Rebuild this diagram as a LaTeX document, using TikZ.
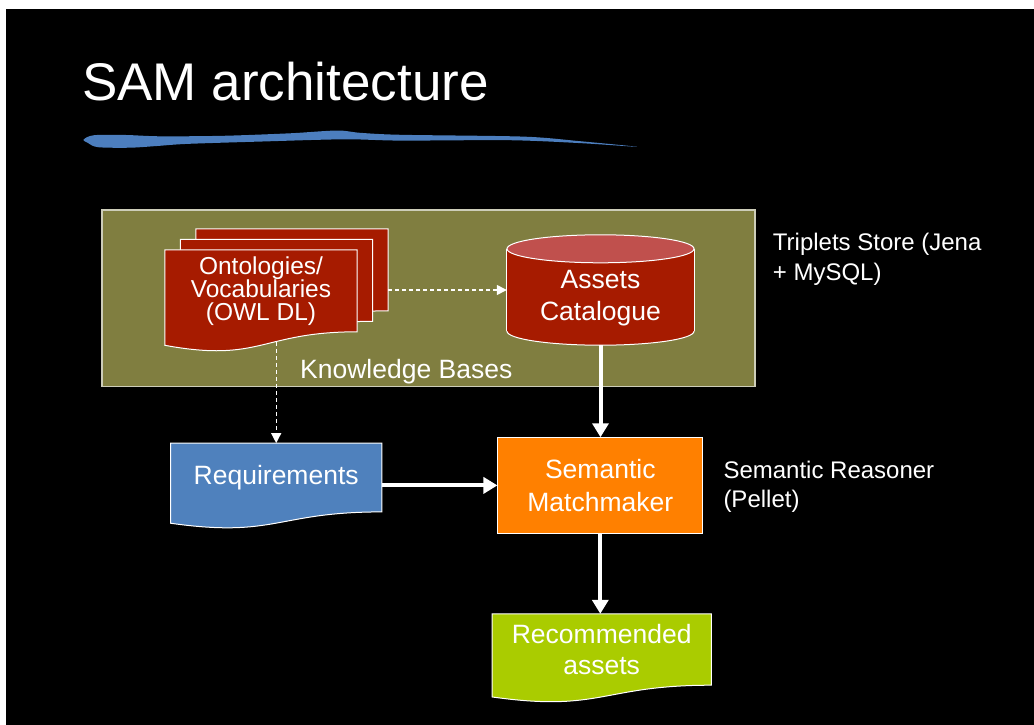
\documentclass[tikz,border=0pt]{standalone}
\usepackage{fontspec}
\setmainfont{Liberation Sans}
\usetikzlibrary{arrows.meta,positioning,calc,backgrounds}

\definecolor{kbolive}{RGB}{128,126,64}
\definecolor{kbedge}{RGB}{205,205,185}
\definecolor{ontored}{RGB}{166,27,0}
\definecolor{cattop}{RGB}{192,80,77}
\definecolor{reqblue}{RGB}{79,129,189}
\definecolor{mmorange}{RGB}{255,128,0}
\definecolor{recgreen}{RGB}{170,204,0}
\definecolor{brushblue}{RGB}{76,126,190}

% wavy-bottom document outline around a (text) node
\newcommand{\docpath}[1]{(#1.north west) -- (#1.north east) -- (#1.south east)
  .. controls (#1.south) and ($(#1.north)!1.381!(#1.south)$)
  .. ($(#1.north west)!1.1646!(#1.south west)$) -- cycle}

\begin{document}
\begin{tikzpicture}[x=1pt,y=-1pt,
  txt/.style={text=white,inner sep=0pt,font=\fontsize{26.5}{#1}\selectfont},
  inbox/.style={txt=#1,align=center},
  note/.style={text=white,inner sep=0pt,font=\fontsize{24}{#1}\selectfont,
               align=left,anchor=base west},
  shapeline/.style={draw=white,line width=1pt},
  docfill/.style={fill=#1,shapeline},
  arr/.style={-{Triangle[width=16pt,length=14pt]},white,line width=4pt},
  dasharr/.style={-{Triangle[width=10pt,length=10pt]},white,line width=1.3pt,
                  dash pattern=on 4pt off 3pt}
]
\useasboundingbox (0,0) rectangle (1034,725);
\begin{scope}[on background layer]
  \fill[white] (0,0) rectangle (1034,725);
  \fill[black] (6,9.5) rectangle (1034,725);
  \node[draw=kbedge,line width=1.5pt,fill=kbolive,minimum width=653pt,
        minimum height=176.5pt] (kb) at (428.4,298.4) {};
\end{scope}

% title and brush stroke
\node[txt=60,font=\fontsize{53}{60}\selectfont,anchor=base west] (title)
  at (82,100) {SAM architecture};
\fill[brushblue] plot[smooth cycle,tension=0.5] coordinates {
  (83.6,139.6) (94,135.2) (126,135) (160,136.3) (223,135.8) (290,133.3)
  (337,130.5) (360,132.8) (401,134.8) (523,136.6) (580,141.2) (637,146.8)
  (580,143.1) (509,140.2) (401,140.6) (344,139.3) (259,141.6) (187,143.9)
  (157,146) (130,147.7) (98,147.2) (88,143)};

% boxes
\node[text=white,inner sep=0pt,font=\fontsize{24.5}{23}\selectfont,align=center,
      minimum width=192pt,minimum height=81.6pt] (onto)
  at (261,290.8) {Ontologies/\\Vocabularies\\(OWL DL)};
\node[inner sep=0pt,minimum width=192pt,minimum height=81.6pt] (ontoM)
  at ([xshift=15.5pt,yshift=10.5pt]onto.center) {};
\node[inner sep=0pt,minimum width=192pt,minimum height=81.6pt] (ontoB)
  at ([xshift=31pt,yshift=21pt]onto.center) {};
\node[inner sep=0pt,minimum width=187pt,minimum height=110pt] (cat)
  at (600.5,290) {};
\node[inbox=31.7] (catlbl) at ([yshift=-8pt]cat.center) {Assets\\Catalogue};
\node[inbox=31,minimum width=211pt,minimum height=68.4pt] (req)
  at (276.2,477.5) {Requirements};
\node[inbox=32.7,fill=mmorange,shapeline,minimum width=204.7pt,
      minimum height=95.3pt] (mm) at (600.3,485.4) {Semantic\\Matchmaker};
\node[inbox=31.3,minimum width=218.7pt,minimum height=71pt] (rec)
  at (601.7,649.5) {Recommended\\assets};

\begin{scope}[on background layer]
  \path[docfill=ontored] \docpath{ontoB};
  \path[docfill=ontored] \docpath{ontoM};
  \path[docfill=ontored] \docpath{onto};
  \path[docfill=reqblue] \docpath{req};
  \path[docfill=recgreen] \docpath{rec};
  % cylinder
  \path[docfill=ontored] ($(cat.south)+(0,-14)$) ellipse [x radius=93.5,y radius=14];
  \fill[ontored] ($(cat.north west)+(0,14)$) rectangle ($(cat.south east)+(0,-14)$);
  \draw[white,line width=1pt] ($(cat.north west)+(0,14)$) -- ($(cat.south west)+(0,-14)$)
    ($(cat.north east)+(0,14)$) -- ($(cat.south east)+(0,-14)$);
  \path[docfill=cattop] ($(cat.north)+(0,14)$) ellipse [x radius=93.5,y radius=14];
\end{scope}

% side notes (base = last line)
\node[txt=30,anchor=base west] (kblbl) at (300,378) {Knowledge Bases};
\node[note=30] (store) at (772.7,280) {Triplets Store (Jena\\+ MySQL)};
\node[note=29] (reasoner) at (723.3,507) {Semantic Reasoner\\(Pellet)};

% connectors
\draw[dasharr] (ontoB.east |- cat.west) -- (cat.west);
\draw[dasharr] ([yshift=-10pt]onto.south -| req.north) -- (req.north);
\draw[arr] (cat.south) -- (cat.south |- mm.north);
\draw[arr] (req.east |- mm.west) -- (mm.west);
\draw[arr] (mm.south) -- (mm.south |- rec.north);
\end{tikzpicture}
\end{document}
